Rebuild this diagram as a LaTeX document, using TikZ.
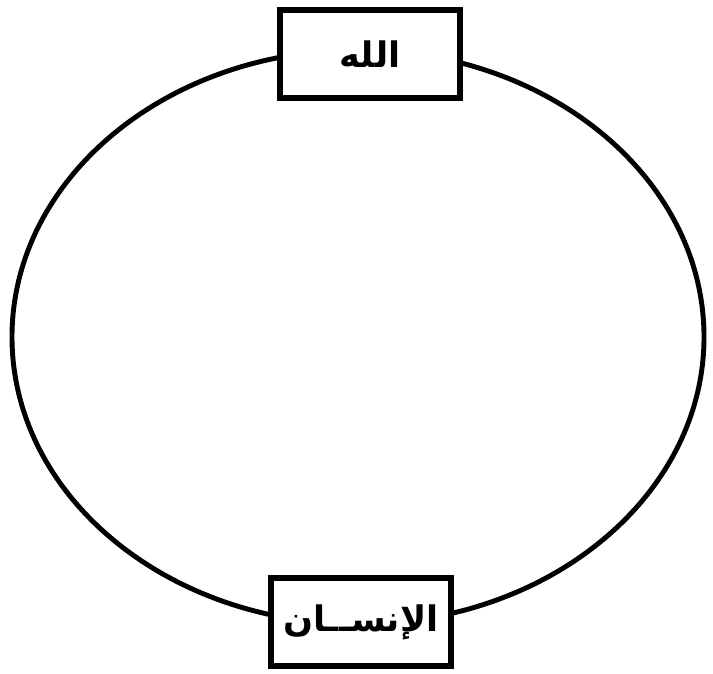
\documentclass[tikz,border=0pt]{standalone}
\usepackage{fontspec}
\newfontfamily\arabicfont[Script=Arabic]{DejaVu Sans}
\TeXXeTstate=1
\begin{document}
\begin{tikzpicture}[
            x=0.01cm,
            y=-0.01cm,
            box/.style={draw, line width=1.7pt, fill=white, minimum width=1.8cm, minimum height=0.88cm, inner sep=0pt, font=\arabicfont\bfseries\fontsize{10}{12}\selectfont}
        ]
        \useasboundingbox (0,0) rectangle (713,674);
        \coordinate (C) at (358,337);

        \draw[line width=1.4pt] (C) ellipse [x radius=346, y radius=-287];
        \node[box] (god) at (370,54) {\beginR الله\endR};
        \node[box] (man) at (361,622) {\beginR الإنســان\endR};
    \end{tikzpicture}
\end{document}
